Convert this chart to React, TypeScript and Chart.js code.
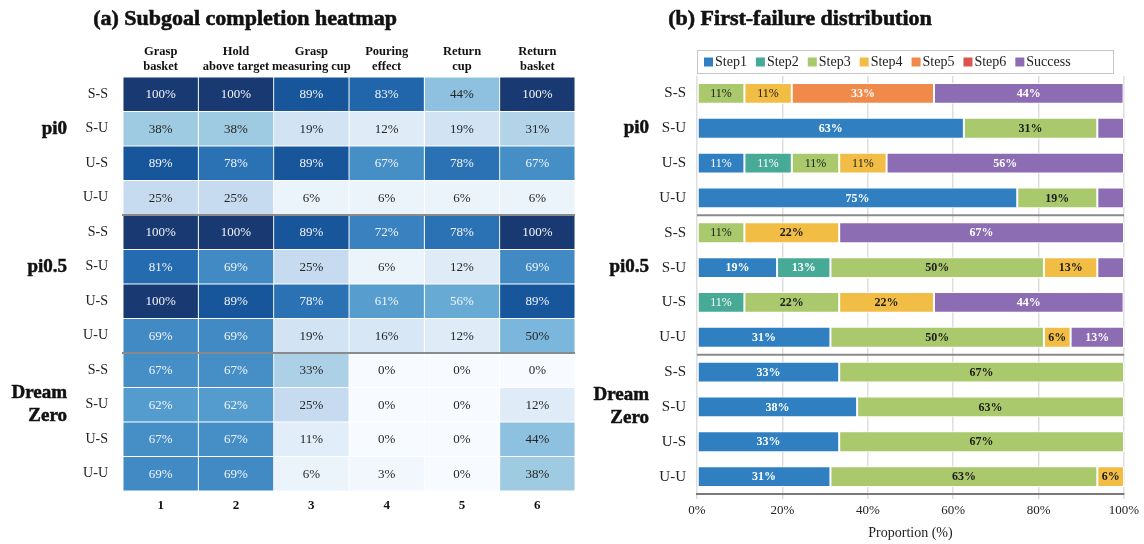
import React, { useEffect, useRef } from 'react';
import { Chart, registerables } from 'chart.js';

Chart.register(...registerables);

const FONT = '"Liberation Serif", "Times New Roman", serif';

// ---------- shared row structure ----------
const rowLabels = ['S-S', 'S-U', 'U-S', 'U-U', 'S-S', 'S-U', 'U-S', 'U-U', 'S-S', 'S-U', 'U-S', 'U-U'];
const groupLabels = [['pi0'], ['pi0.5'], ['Dream', 'Zero']];
const groupSize = 4;

// ---------- (a) heatmap ----------
const heatTitle = '(a) Subgoal completion heatmap';
const subgoalHeaders = [
  ['Grasp', 'basket'],
  ['Hold', 'above target'],
  ['Grasp', 'measuring cup'],
  ['Pouring', 'effect'],
  ['Return', 'cup'],
  ['Return', 'basket'],
];
const subgoalNumbers = ['1', '2', '3', '4', '5', '6'];

const heatGraspBasket = [100, 38, 89, 25, 100, 81, 100, 69, 67, 62, 67, 69];
const heatHoldAbove = [100, 38, 78, 25, 100, 69, 89, 69, 67, 62, 67, 69];
const heatGraspCup = [89, 19, 89, 6, 89, 25, 78, 19, 33, 25, 11, 6];
const heatPouring = [83, 12, 67, 6, 72, 6, 61, 16, 0, 0, 0, 3];
const heatReturnCup = [44, 19, 78, 6, 78, 12, 56, 12, 0, 0, 0, 0];
const heatReturnBasket = [100, 31, 67, 6, 100, 69, 89, 50, 0, 12, 44, 38];
const heatColumns = [heatGraspBasket, heatHoldAbove, heatGraspCup, heatPouring, heatReturnCup, heatReturnBasket];

// ---------- (b) first-failure distribution ----------
const barTitle = '(b) First-failure distribution';
const stepNames = ['Step1', 'Step2', 'Step3', 'Step4', 'Step5', 'Step6', 'Success'];
const stepColors = ['#3080c1', '#47aa97', '#a9c96c', '#f2bd45', '#ef8a4b', '#d9534f', '#8c6cb2'];
const stepTextColors = ['#ffffff', '#ffffff', '#1a1a1a', '#1a1a1a', '#ffffff', '#ffffff', '#ffffff'];
const step1 = [0, 62.5, 11.1, 75, 0, 18.75, 0, 31.25, 33.3, 37.5, 33.3, 31.25];
const step2 = [0, 0, 11.1, 0, 0, 12.5, 11.1, 0, 0, 0, 0, 0];
const step3 = [11.1, 31.25, 11.1, 18.75, 11.1, 50, 22.2, 50, 66.7, 62.5, 66.7, 62.5];
const step4 = [11.1, 0, 11.1, 0, 22.2, 12.5, 22.2, 6.25, 0, 0, 0, 6.25];
const step5 = [33.3, 0, 0, 0, 0, 0, 0, 0, 0, 0, 0, 0];
const step6 = [0, 0, 0, 0, 0, 0, 0, 0, 0, 0, 0, 0];
const success = [44.4, 6.25, 55.6, 6.25, 66.7, 6.25, 44.4, 12.5, 0, 0, 0, 0];
const stepSeries = [step1, step2, step3, step4, step5, step6, success];
const proportionTicks = [0, 20, 40, 60, 80, 100];
const proportionTitle = 'Proportion (%)';

// matplotlib "Blues"
const BLUES = [
  [247, 251, 255], [222, 235, 247], [198, 219, 239], [158, 202, 225], [107, 174, 214],
  [66, 146, 198], [33, 113, 181], [8, 81, 156], [8, 48, 107],
];
function blues(t: number) {
  const c = Math.max(0, Math.min(1, t));
  const p = c * 8;
  const i = Math.min(7, Math.floor(p));
  const f = p - i;
  const a = BLUES[i];
  const b = BLUES[i + 1];
  const s = Math.max(0, Math.min(1, (c - 0.35) / 0.15));
  const shift = [16, 9, 6];
  const m = (k: number) => Math.min(255, Math.round(a[k] + (b[k] - a[k]) * f + shift[k] * s));
  return `rgb(${m(0)},${m(1)},${m(2)})`;
}

function heavyText(ctx: any, text: string, x: number, y: number, w: number) {
  ctx.fillText(text, x, y);
  ctx.lineWidth = w;
  ctx.strokeStyle = ctx.fillStyle;
  ctx.strokeText(text, x, y);
}

function drawGroupsAndSeparators(chart: any, groupX: number, sepStart: number) {
  const ctx = chart.ctx;
  const y = chart.scales.y;
  const area = chart.chartArea;
  ctx.save();
  ctx.strokeStyle = '#8a8a8a';
  ctx.lineWidth = 2;
  for (let g = 1; g < groupLabels.length; g++) {
    const idx = g * groupSize;
    const py = (y.getPixelForValue(idx - 1) + y.getPixelForValue(idx)) / 2;
    ctx.beginPath();
    ctx.moveTo(sepStart, py);
    ctx.lineTo(area.right, py);
    ctx.stroke();
  }
  ctx.fillStyle = '#111';
  ctx.font = `bold 19px ${FONT}`;
  ctx.textAlign = 'right';
  ctx.textBaseline = 'middle';
  groupLabels.forEach((lines, g) => {
    const cy = y.getPixelForValue(g * groupSize + 1);
    const lh = 23;
    lines.forEach((t, k) => {
      heavyText(ctx, t, groupX, cy + (k - (lines.length - 1) / 2) * lh, 0.5);
    });
  });
  ctx.restore();
}

function drawTitle(chart: any, text: string, cx: number) {
  const ctx = chart.ctx;
  ctx.save();
  ctx.fillStyle = '#111';
  ctx.font = `bold 22px ${FONT}`;
  ctx.textAlign = 'center';
  ctx.textBaseline = 'middle';
  heavyText(ctx, text, cx, 19, 0.6);
  ctx.restore();
}

const heatPlugin = {
  id: 'heatDecor',
  afterDatasetsDraw(chart: any) {
    const ctx = chart.ctx;
    ctx.save();
    ctx.font = `13px ${FONT}`;
    ctx.textAlign = 'center';
    ctx.textBaseline = 'middle';
    heatColumns.forEach((col, c) => {
      const meta = chart.getDatasetMeta(c);
      meta.data.forEach((el: any, r: number) => {
        const v = col[r];
        ctx.fillStyle = v > 55 ? '#f3f5f9' : '#262626';
        ctx.fillText(`${v}%`, (el.x + el.base) / 2, el.y + 0.5);
      });
    });
    ctx.restore();
    drawGroupsAndSeparators(chart, 67, chart.chartArea.left - 1);
    drawTitle(chart, heatTitle, 245);
  },
};

const RIGHT_OFFSET = 560;

const barPlugin = {
  id: 'barDecor',
  afterDatasetsDraw(chart: any) {
    const ctx = chart.ctx;
    const area = chart.chartArea;
    ctx.save();
    ctx.textAlign = 'center';
    ctx.textBaseline = 'middle';
    stepSeries.forEach((series, k) => {
      const meta = chart.getDatasetMeta(k);
      meta.data.forEach((el: any, r: number) => {
        const v = series[r];
        if (!v) return;
        if (stepNames[k] === 'Success' && v < 10) return;
        const shown = Math.round(v);
        ctx.font = `${shown === 11 ? 'normal' : 'bold'} 12px ${FONT}`;
        ctx.fillStyle = stepTextColors[k];
        ctx.fillText(`${shown}%`, (el.x + el.base) / 2, el.y + 0.5);
      });
    });
    ctx.restore();
    drawGroupsAndSeparators(chart, 649 - RIGHT_OFFSET, area.left);
    drawTitle(chart, barTitle, 800 - RIGHT_OFFSET);

    // legend box
    ctx.save();
    const top = 50;
    const h = 23;
    ctx.strokeStyle = '#c8c8c8';
    ctx.lineWidth = 1;
    ctx.strokeRect(area.left + 0.5, top + 0.5, 416, h);
    ctx.font = `14px ${FONT}`;
    ctx.textAlign = 'left';
    ctx.textBaseline = 'middle';
    let x = area.left + 7;
    const cy = top + h / 2 + 0.5;
    stepNames.forEach((name, k) => {
      ctx.fillStyle = stepColors[k];
      ctx.fillRect(x, cy - 4.5, 9, 9);
      ctx.fillStyle = '#222';
      ctx.fillText(name, x + 11, cy + 0.5);
      x += 11 + ctx.measureText(name).width + 9;
    });
    ctx.restore();
  },
};

export default function App() {
  const leftRef = useRef<HTMLCanvasElement>(null);
  const rightRef = useRef<HTMLCanvasElement>(null);

  useEffect(() => {
    document.body.style.margin = '0';
    const colTicks = (axis: any) => {
      axis.ticks = subgoalNumbers.map((_, i) => ({ value: i + 0.5 }));
    };

    const heat = new Chart(leftRef.current as HTMLCanvasElement, {
      type: 'bar',
      data: {
        labels: rowLabels,
        datasets: heatColumns.map((col, c) => ({
          label: subgoalHeaders[c].join(' '),
          data: col.map(() => 1),
          backgroundColor: col.map((v) => blues(v / 100)),
          borderColor: '#ffffff',
          borderWidth: 0.8,
          borderSkipped: false,
          barPercentage: 1,
          categoryPercentage: 1,
        })),
      },
      options: {
        indexAxis: 'y',
        responsive: false,
        animation: false,
        layout: { padding: { left: 0, right: 25, top: 0, bottom: 0 } },
        plugins: { legend: { display: false }, tooltip: { enabled: false }, title: { display: false } },
        scales: {
          x: {
            type: 'linear',
            position: 'top',
            stacked: true,
            min: 0,
            max: 6,
            afterBuildTicks: colTicks,
            afterFit: (s: any) => { s.height = 77; },
            ticks: {
              autoSkip: false,
              maxRotation: 0,
              padding: 3,
              color: '#111',
              font: { family: FONT, size: 12.5, weight: 'bold' },
              callback: (_v: any, i: number) => subgoalHeaders[i],
            },
            grid: { display: false, drawTicks: false },
            border: { display: false },
          },
          x2: {
            type: 'linear',
            axis: 'x',
            position: 'bottom',
            min: 0,
            max: 6,
            afterBuildTicks: colTicks,
            afterFit: (s: any) => { s.height = 53; },
            ticks: {
              autoSkip: false,
              maxRotation: 0,
              padding: 7,
              color: '#111',
              font: { family: FONT, size: 13, weight: 'bold' },
              callback: (_v: any, i: number) => subgoalNumbers[i],
            },
            grid: { display: false, drawTicks: false },
            border: { display: false },
          },
          y: {
            type: 'category',
            stacked: true,
            afterFit: (s: any) => { s.width = 123; },
            ticks: { padding: 15, color: '#222', font: { family: FONT, size: 14 } },
            grid: { display: false, drawTicks: false },
            border: { display: false },
          },
        },
      } as any,
      plugins: [heatPlugin],
    });

    const bars = new Chart(rightRef.current as HTMLCanvasElement, {
      type: 'bar',
      data: {
        labels: rowLabels,
        datasets: stepSeries.map((series, k) => ({
          label: stepNames[k],
          data: series,
          backgroundColor: stepColors[k],
          borderColor: '#ffffff',
          borderWidth: 1,
          borderSkipped: false,
          barPercentage: 0.6,
          categoryPercentage: 1,
        })),
      },
      options: {
        indexAxis: 'y',
        responsive: false,
        animation: false,
        layout: { padding: { left: 0, right: 20, top: 76, bottom: 0 } },
        plugins: { legend: { display: false }, tooltip: { enabled: false }, title: { display: false } },
        scales: {
          x: {
            type: 'linear',
            stacked: true,
            min: 0,
            max: 100,
            afterBuildTicks: (axis: any) => { axis.ticks = proportionTicks.map((v) => ({ value: v })); },
            afterFit: (s: any) => { s.height = 50; },
            ticks: {
              autoSkip: false,
              maxRotation: 0,
              padding: 4,
              color: '#222',
              font: { family: FONT, size: 13 },
              callback: (v: any) => `${v}%`,
            },
            grid: { color: '#dedede', lineWidth: 1.5, drawTicks: true, tickLength: 5 },
            border: { display: true, color: '#7a7a7a', width: 2 },
            title: {
              display: true,
              text: proportionTitle,
              color: '#222',
              font: { family: FONT, size: 14 },
              padding: { top: 0, bottom: 2 },
            },
          },
          y: {
            type: 'category',
            stacked: true,
            afterFit: (s: any) => { s.width = 697 - RIGHT_OFFSET; },
            ticks: { padding: 11, color: '#222', font: { family: FONT, size: 15 } },
            grid: { display: false, drawTicks: false },
            border: { display: false },
          },
        },
      } as any,
      plugins: [barPlugin],
    });

    return () => {
      heat.destroy();
      bars.destroy();
    };
  }, []);

  return (
    <div style={{ position: 'absolute', left: 0, top: 0, width: 1144, height: 544, background: '#ffffff' }}>
      <canvas ref={leftRef} width={600} height={544} style={{ position: 'absolute', left: 0, top: 0 }} />
      <canvas
        ref={rightRef}
        width={1144 - RIGHT_OFFSET}
        height={544}
        style={{ position: 'absolute', left: RIGHT_OFFSET, top: 0 }}
      />
    </div>
  );
}
